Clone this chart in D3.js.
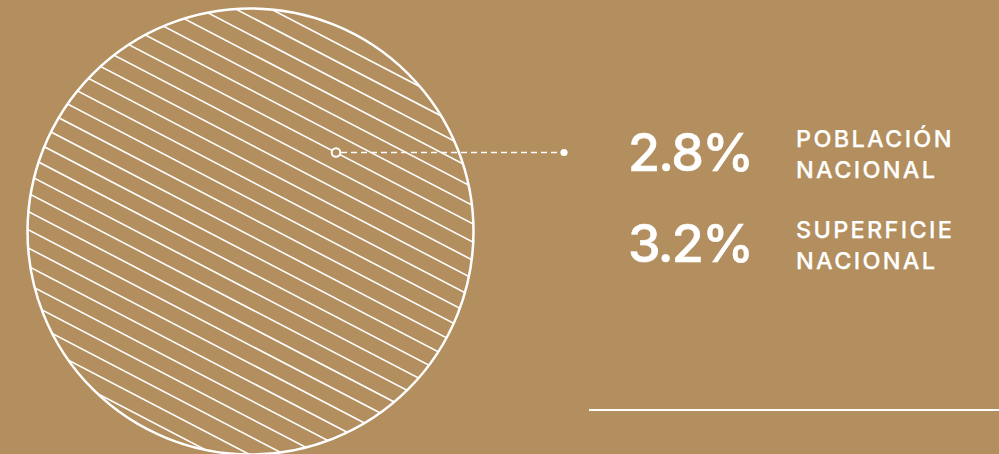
<!DOCTYPE html>
<meta charset="utf-8">
<style>
html, body { margin: 0; padding: 0; background: #b38e5e; }
svg { display: block; }
.big { font: 500 52px Inter, "Noto Sans", sans-serif; fill: #fff; letter-spacing: -1.7px; stroke: #fff; stroke-width: 0.6px; }
.lbl { font: 500 23.5px Inter, "Noto Sans", sans-serif; fill: #fff; letter-spacing: 2.3px; stroke: #fff; stroke-width: 0.25px; }
</style>
<body>
<script src="https://d3js.org/d3.v7.min.js"></script>
<script>

var values = [2.8, 3.2];
var labels = [["POBLACIÓN", "NACIONAL"], ["SUPERFICIE", "NACIONAL"]];

var width = 999, height = 454,
    bg = "#b38e5e";

var cx = 250.5, cy = 231.5, r = 223;
var marker = {x: 336, y: 152.5}, dotX = 564;

var svg = d3.select("body").append("svg")
    .attr("width", width)
    .attr("height", height);

svg.append("rect")
    .attr("width", width)
    .attr("height", height)
    .attr("fill", bg);

svg.append("clipPath")
    .attr("id", "clip")
  .append("circle")
    .attr("cx", cx)
    .attr("cy", cy)
    .attr("r", r);

// hatch lines, rotated around the marker so one runs through it
var angle = 27.5, gap = 16.2;
var offsets = d3.range(-32, 33).map(function(k) { return k * gap; });

svg.append("g")
    .attr("clip-path", "url(#clip)")
  .append("g")
    .attr("transform", "translate(" + marker.x + "," + marker.y + ") rotate(" + angle + ")")
  .selectAll("line")
    .data(offsets)
  .enter().append("line")
    .attr("x1", -800)
    .attr("x2", 800)
    .attr("y1", function(d) { return d; })
    .attr("y2", function(d) { return d; })
    .attr("stroke", "#fff")
    .attr("stroke-width", 1.6);

svg.append("circle")
    .attr("cx", cx)
    .attr("cy", cy)
    .attr("r", r)
    .attr("fill", "none")
    .attr("stroke", "#fff")
    .attr("stroke-width", 2.5);

// leader
svg.append("line")
    .attr("x1", marker.x + 5)
    .attr("x2", dotX)
    .attr("y1", marker.y)
    .attr("y2", marker.y)
    .attr("stroke", "#fff")
    .attr("stroke-width", 1.5)
    .attr("stroke-dasharray", "6,4");

svg.append("circle")
    .attr("cx", marker.x)
    .attr("cy", marker.y)
    .attr("r", 4.3)
    .attr("fill", bg)
    .attr("stroke", "#fff")
    .attr("stroke-width", 2);

svg.append("circle")
    .attr("cx", dotX)
    .attr("cy", marker.y)
    .attr("r", 3.6)
    .attr("fill", "#fff");

var fmt = d3.format(".1f");
var y = d3.scalePoint().domain(d3.range(values.length)).range([171, 262]);

var row = svg.selectAll(".row")
    .data(values)
  .enter().append("g")
    .attr("class", "row")
    .attr("transform", function(d, i) { return "translate(0," + y(i) + ")"; });

row.append("text")
    .attr("class", "big")
    .attr("x", 628)
    .text(function(d) { return fmt(d) + "%"; });

row.append("text")
    .attr("class", "lbl")
    .attr("x", 796)
    .attr("y", -24)
    .selectAll("tspan")
    .data(function(d, i) { return labels[i]; })
  .enter().append("tspan")
    .attr("x", 796)
    .attr("dy", function(d, j) { return j ? 31 : 0; })
    .text(function(d) { return d; });

svg.append("line")
    .attr("x1", 589)
    .attr("x2", width)
    .attr("y1", 410)
    .attr("y2", 410)
    .attr("stroke", "#fff")
    .attr("stroke-width", 2);

</script>
</body>
